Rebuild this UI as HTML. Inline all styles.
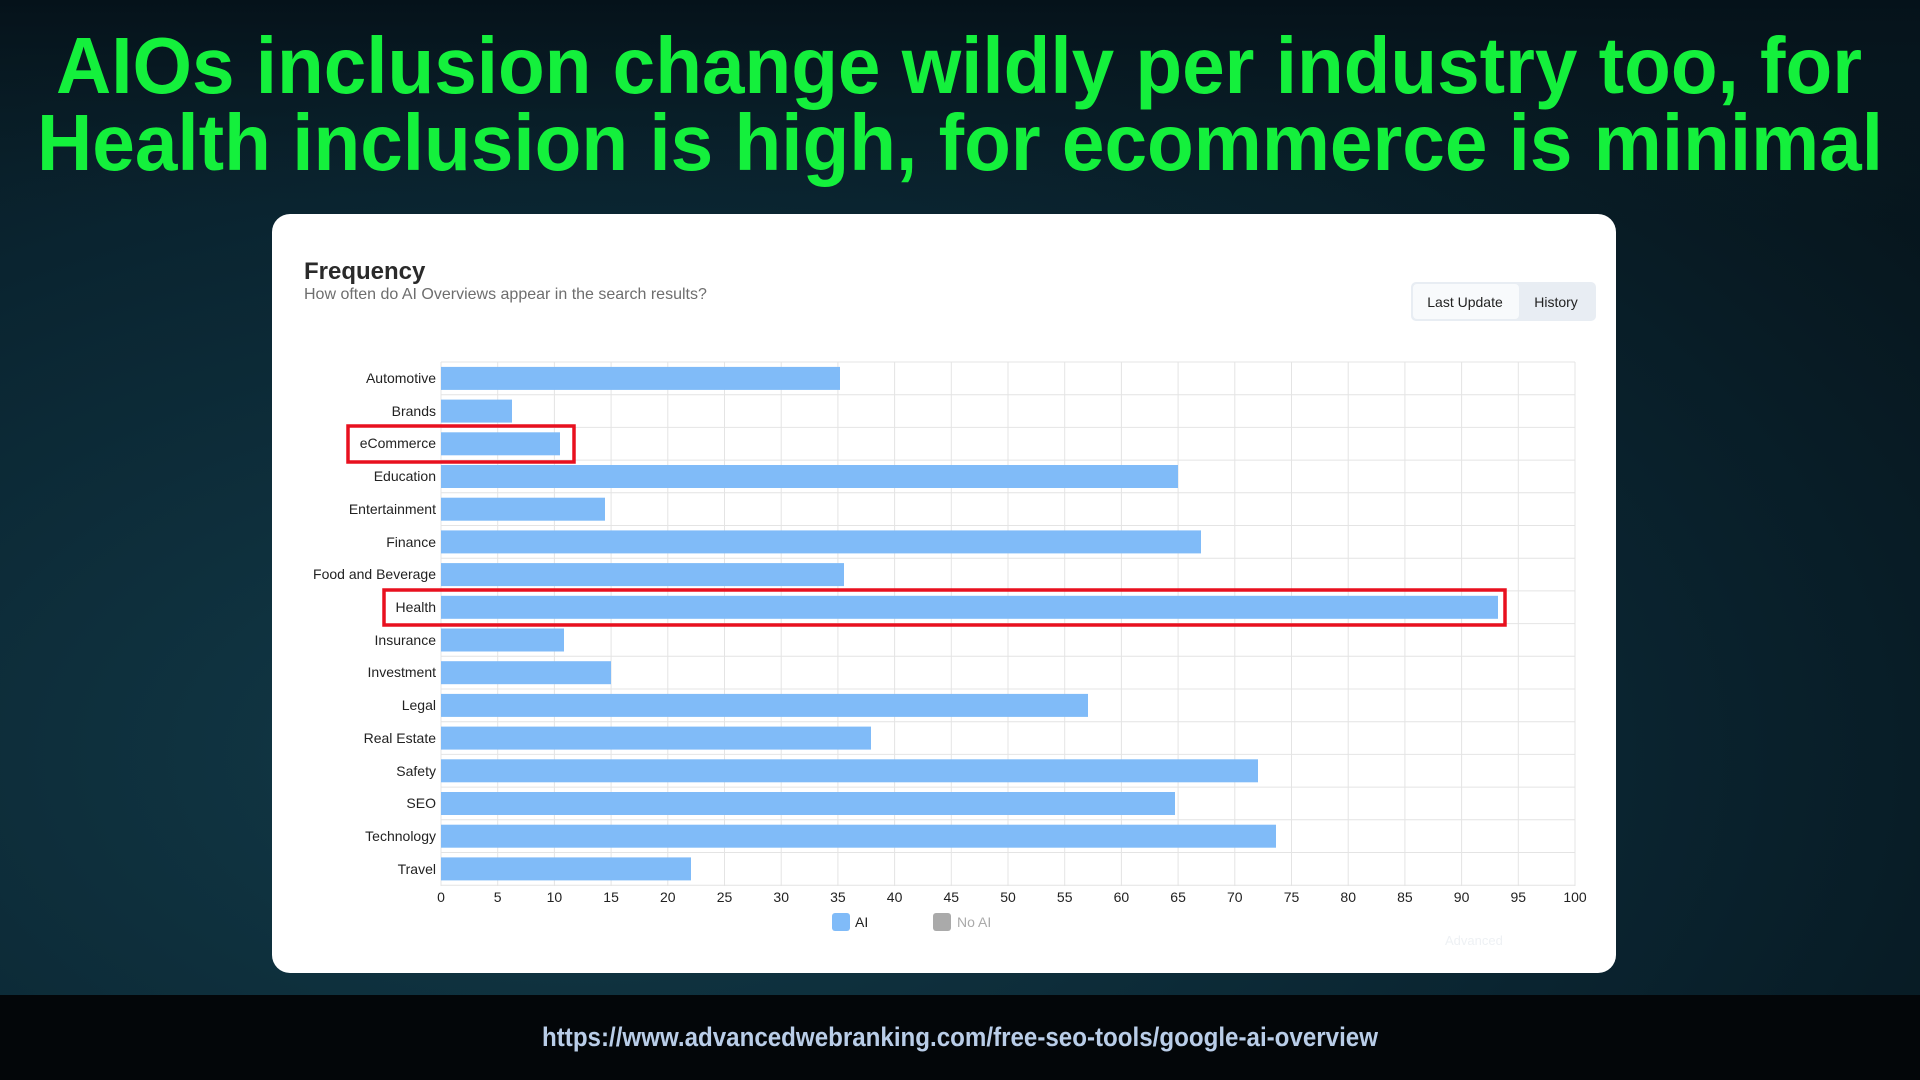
<!DOCTYPE html>
<html><head><meta charset="utf-8"><style>
html,body{margin:0;padding:0;width:1920px;height:1080px;overflow:hidden;background:#071820;}
svg{display:block}
</style></head><body>
<svg width="1920" height="1080" xmlns="http://www.w3.org/2000/svg" font-family="Liberation Sans, sans-serif">
<defs>
<radialGradient id="bg" cx="0.3" cy="0.7" r="0.9">
<stop offset="0" stop-color="#123a48"/><stop offset="0.6" stop-color="#0a2430"/><stop offset="1" stop-color="#06141b"/>
</radialGradient>
<linearGradient id="tg" x1="0" y1="0" x2="0" y2="1"><stop offset="0" stop-color="#05121a"/><stop offset="1" stop-color="#0a2029" stop-opacity="0"/></linearGradient>
</defs>
<rect width="1920" height="1080" fill="url(#bg)"/>
<rect width="1920" height="220" fill="url(#tg)"/>
<rect y="995" width="1920" height="85" fill="#030609"/>
<g font-weight="bold" fill="#14f03c" font-size="80">
<text x="56" y="93" textLength="1806" lengthAdjust="spacingAndGlyphs">AIOs inclusion change wildly per industry too, for</text>
<text x="37" y="170" textLength="1846" lengthAdjust="spacingAndGlyphs">Health inclusion is high, for ecommerce is minimal</text>
</g>
<text x="542" y="1046" font-size="27" font-weight="bold" fill="#b9cde8" textLength="836" lengthAdjust="spacingAndGlyphs">https://www.advancedwebranking.com/free-seo-tools/google-ai-overview</text>
<rect x="272" y="214" width="1344" height="759" rx="18" fill="#ffffff"/>
<text x="304" y="279" font-size="24" font-weight="bold" fill="#2a2a2a">Frequency</text>
<text x="304" y="299" font-size="16" fill="#6e6e6e">How often do AI Overviews appear in the search results?</text>
<rect x="1411" y="282" width="185" height="39" rx="5" fill="#e8edf3"/>
<rect x="1413" y="284" width="106" height="35" rx="4" fill="#f8fafc"/>
<text x="1465" y="307" font-size="14" fill="#222" text-anchor="middle">Last Update</text>
<text x="1556" y="307" font-size="14" fill="#222" text-anchor="middle">History</text>
<g stroke="#e4e4e4" stroke-width="1">
<line x1="441" y1="362" x2="1575" y2="362"/><line x1="441" y1="394.7" x2="1575" y2="394.7"/><line x1="441" y1="427.4" x2="1575" y2="427.4"/><line x1="441" y1="460.1" x2="1575" y2="460.1"/><line x1="441" y1="492.8" x2="1575" y2="492.8"/><line x1="441" y1="525.5" x2="1575" y2="525.5"/><line x1="441" y1="558.2" x2="1575" y2="558.2"/><line x1="441" y1="590.9" x2="1575" y2="590.9"/><line x1="441" y1="623.6" x2="1575" y2="623.6"/><line x1="441" y1="656.3" x2="1575" y2="656.3"/><line x1="441" y1="689" x2="1575" y2="689"/><line x1="441" y1="721.7" x2="1575" y2="721.7"/><line x1="441" y1="754.4" x2="1575" y2="754.4"/><line x1="441" y1="787.1" x2="1575" y2="787.1"/><line x1="441" y1="819.8" x2="1575" y2="819.8"/><line x1="441" y1="852.5" x2="1575" y2="852.5"/><line x1="441" y1="885.2" x2="1575" y2="885.2"/>
<line x1="441" y1="362" x2="441" y2="886"/><line x1="497.7" y1="362" x2="497.7" y2="886"/><line x1="554.4" y1="362" x2="554.4" y2="886"/><line x1="611.1" y1="362" x2="611.1" y2="886"/><line x1="667.8" y1="362" x2="667.8" y2="886"/><line x1="724.5" y1="362" x2="724.5" y2="886"/><line x1="781.2" y1="362" x2="781.2" y2="886"/><line x1="837.9" y1="362" x2="837.9" y2="886"/><line x1="894.6" y1="362" x2="894.6" y2="886"/><line x1="951.3" y1="362" x2="951.3" y2="886"/><line x1="1008" y1="362" x2="1008" y2="886"/><line x1="1064.7" y1="362" x2="1064.7" y2="886"/><line x1="1121.4" y1="362" x2="1121.4" y2="886"/><line x1="1178.1" y1="362" x2="1178.1" y2="886"/><line x1="1234.8" y1="362" x2="1234.8" y2="886"/><line x1="1291.5" y1="362" x2="1291.5" y2="886"/><line x1="1348.2" y1="362" x2="1348.2" y2="886"/><line x1="1404.9" y1="362" x2="1404.9" y2="886"/><line x1="1461.6" y1="362" x2="1461.6" y2="886"/><line x1="1518.3" y1="362" x2="1518.3" y2="886"/><line x1="1575" y1="362" x2="1575" y2="886"/>
</g>
<g fill="#80bbf8">
<rect x="441" y="366.9" width="399" height="23"/>
<rect x="441" y="399.6" width="71" height="23"/>
<rect x="441" y="432.3" width="119" height="23"/>
<rect x="441" y="465" width="737" height="23"/>
<rect x="441" y="497.7" width="164" height="23"/>
<rect x="441" y="530.4" width="760" height="23"/>
<rect x="441" y="563.1" width="403" height="23"/>
<rect x="441" y="595.8" width="1057" height="23"/>
<rect x="441" y="628.5" width="123" height="23"/>
<rect x="441" y="661.2" width="170" height="23"/>
<rect x="441" y="693.9" width="647" height="23"/>
<rect x="441" y="726.6" width="430" height="23"/>
<rect x="441" y="759.3" width="817" height="23"/>
<rect x="441" y="792" width="734" height="23"/>
<rect x="441" y="824.7" width="835" height="23"/>
<rect x="441" y="857.4" width="250" height="23"/>
</g>
<g font-size="14" fill="#222" text-anchor="end">
<text x="436" y="383">Automotive</text><text x="436" y="416">Brands</text><text x="436" y="448">eCommerce</text><text x="436" y="481">Education</text><text x="436" y="514">Entertainment</text><text x="436" y="547">Finance</text><text x="436" y="579">Food and Beverage</text><text x="436" y="612">Health</text><text x="436" y="645">Insurance</text><text x="436" y="677">Investment</text><text x="436" y="710">Legal</text><text x="436" y="743">Real Estate</text><text x="436" y="776">Safety</text><text x="436" y="808">SEO</text><text x="436" y="841">Technology</text><text x="436" y="874">Travel</text>
</g>
<g font-size="14" fill="#222" text-anchor="middle">
<text x="441" y="902">0</text><text x="497.7" y="902">5</text><text x="554.4" y="902">10</text><text x="611.1" y="902">15</text><text x="667.8" y="902">20</text><text x="724.5" y="902">25</text><text x="781.2" y="902">30</text><text x="837.9" y="902">35</text><text x="894.6" y="902">40</text><text x="951.3" y="902">45</text><text x="1008" y="902">50</text><text x="1064.7" y="902">55</text><text x="1121.4" y="902">60</text><text x="1178.1" y="902">65</text><text x="1234.8" y="902">70</text><text x="1291.5" y="902">75</text><text x="1348.2" y="902">80</text><text x="1404.9" y="902">85</text><text x="1461.6" y="902">90</text><text x="1518.3" y="902">95</text><text x="1575" y="902">100</text>
</g>
<rect x="832" y="913" width="18" height="18" rx="3" fill="#80bbf8"/>
<text x="855" y="927" font-size="14" fill="#222">AI</text>
<rect x="933" y="913" width="18" height="18" rx="3" fill="#aaaaaa"/>
<text x="957" y="927" font-size="14" fill="#aaa">No AI</text>
<text x="1445" y="945" font-size="13" fill="#eef1f4">Advanced</text>
<g fill="none" stroke="#e8101f" stroke-width="3.5">
<rect x="348" y="426" width="226" height="36"/>
<rect x="384" y="590" width="1121" height="35"/>
</g>
</svg>
</body></html>
